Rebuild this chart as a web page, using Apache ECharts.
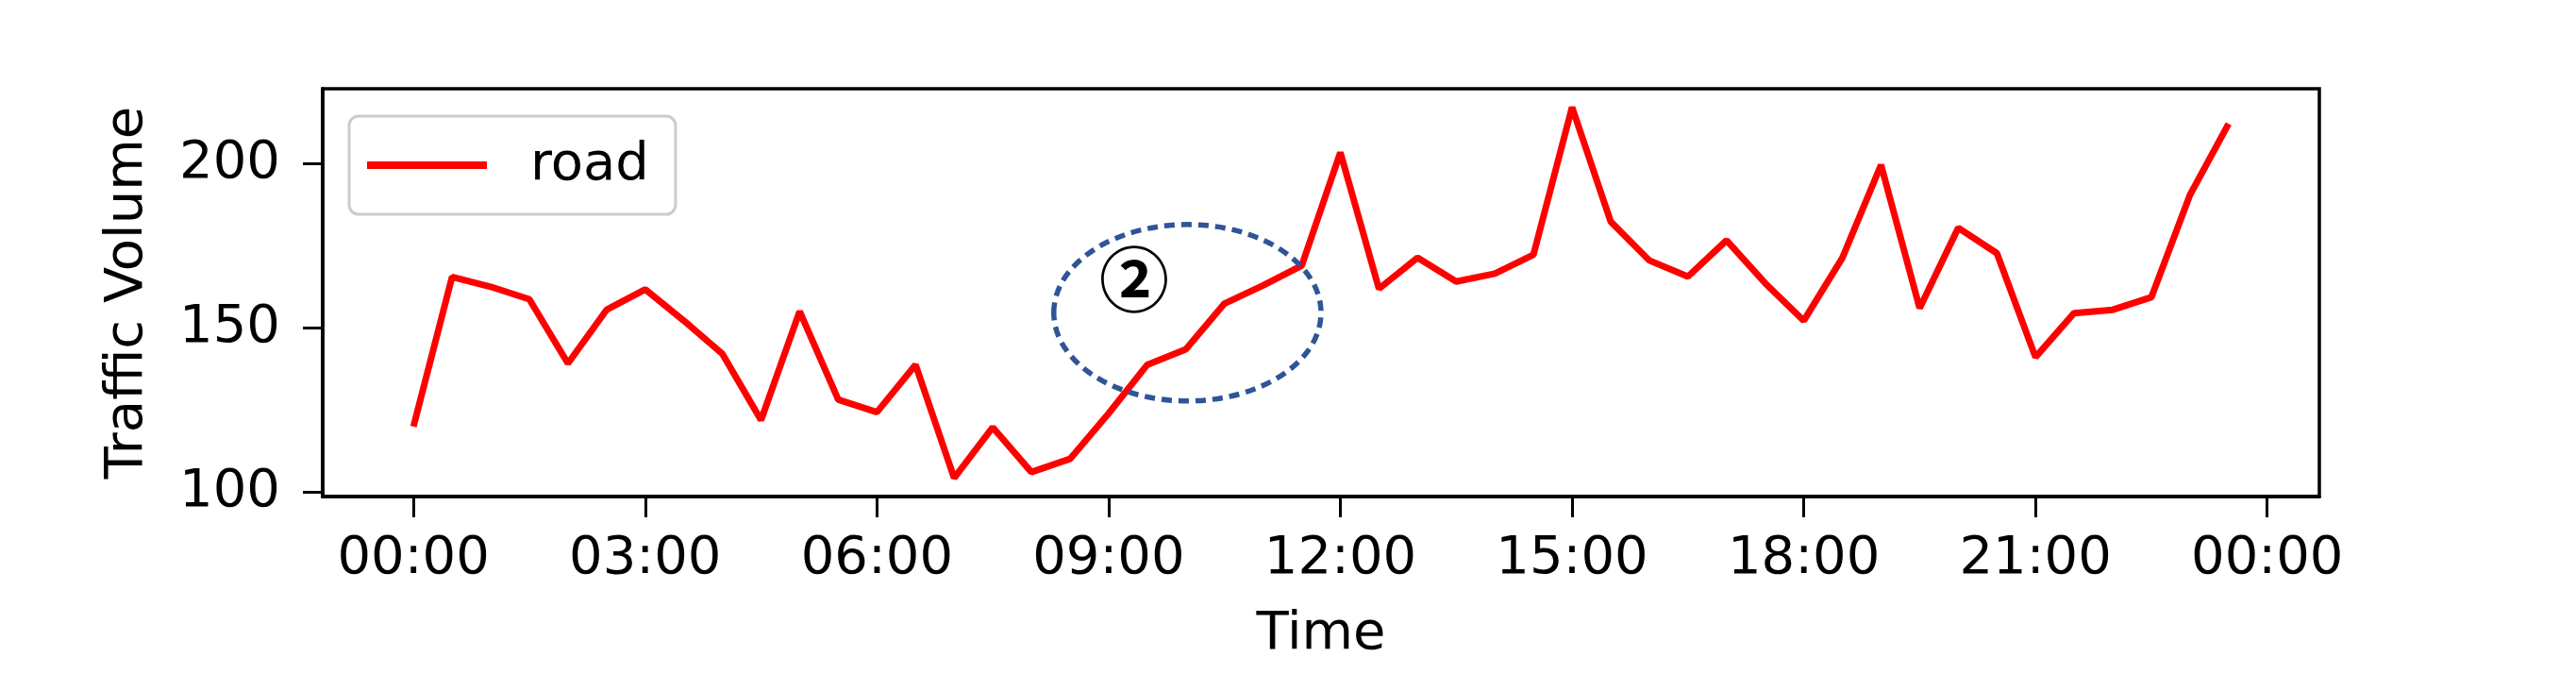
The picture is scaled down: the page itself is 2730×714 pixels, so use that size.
<!DOCTYPE html>
<html>
<head>
<meta charset="utf-8">
<script src="https://cdn.jsdelivr.net/npm/echarts@6/dist/echarts.min.js"></script>
<style>
html,body{margin:0;padding:0;background:#fff;}
#chart{width:2730px;height:714px;}
</style>
</head>
<body>
<div id="chart"></div>
<script>
// ---- data ----
var times = ["00:00","00:30","01:00","01:30","02:00","02:30","03:00","03:30",
             "04:00","04:30","05:00","05:30","06:00","06:30","07:00","07:30",
             "08:00","08:30","09:00","09:30","10:00","10:30","11:00","11:30",
             "12:00","12:30","13:00","13:30","14:00","14:30","15:00","15:30",
             "16:00","16:30","17:00","17:30","18:00","18:30","19:00","19:30",
             "20:00","20:30","21:00","21:30","22:00","22:30","23:00","23:30"];
var road = [120,165.5,162.5,158.7,139.2,155.5,161.7,152.2,
            142.1,122,155,128.2,124.4,138.8,104.4,119.8,
            106.2,110.2,124,138.8,143.5,157.4,162.9,168.9,
            203.3,161.9,171.3,164.1,166.5,172.2,217,182.3,
            170.5,165.6,176.6,163.6,152.2,171.3,199.5,156,
            180.4,172.7,141.1,154.5,155.5,159.3,190.4,212];
var xTickHours = [0,3,6,9,12,15,18,21,24];
var yTicks = [100,150,200];
var seriesName = "road";
// annotation (data coordinates: hours, volume)
var ellipseCenter = [10.02, 154.6];
var ellipseRadius = [1.73, 26.8];
var markLabelPos = [9.33, 164.7];
var markLabelText = "②";

function toHours(t){var p=t.split(":");return +p[0]+(+p[1])/60;}
function fmtHour(h){var v=((h%24)+24)%24;return (v<10?"0":"")+v+":00";}

var lineData = times.map(function(t,i){return [toHours(t), road[i]];});

var FONT = "DejaVu Sans";
var chart = echarts.init(document.getElementById('chart'), null, {renderer:'canvas'});
chart.setOption({
  backgroundColor:'#ffffff',
  animation:false,
  grid:{left:342, top:94, width:2116, height:432, show:true, borderColor:'#000', borderWidth:3.5, backgroundColor:'transparent'},
  legend:{
    data:[seriesName],
    left:370, top:123,
    orient:'vertical',
    icon:'rect',
    itemWidth:127, itemHeight:8,
    padding:[22,28,22,19],
    backgroundColor:'rgba(255,255,255,0.8)',
    borderColor:'#cccccc', borderWidth:3, borderRadius:10,
    textStyle:{fontFamily:FONT, fontSize:56, color:'#000', lineHeight:60, padding:[0,0,0,41]}
  },
  xAxis:{
    type:'value', min:-1.175, max:24.675,
    name:'Time', nameLocation:'middle', nameGap:118,
    nameTextStyle:{fontFamily:FONT, fontSize:56, color:'#000'},
    axisLine:{show:true, onZero:false, lineStyle:{color:'#000', width:3.5}},
    axisTick:{show:true, length:22, lineStyle:{color:'#000', width:3}, customValues:xTickHours},
    axisLabel:{fontFamily:FONT, fontSize:56, color:'#000', margin:38, customValues:xTickHours, formatter:function(v){return fmtHour(v);}},
    splitLine:{show:false}
  },
  yAxis:{
    type:'value', min:98.77, max:222.66,
    name:'Traffic Volume', nameLocation:'middle', nameGap:179,
    nameTextStyle:{fontFamily:FONT, fontSize:56, color:'#000'},
    axisLine:{show:true, onZero:false, lineStyle:{color:'#000', width:3.5}},
    axisTick:{show:true, length:21, lineStyle:{color:'#000', width:3}, customValues:yTicks},
    axisLabel:{fontFamily:FONT, fontSize:56, color:'#000', margin:45, customValues:yTicks},
    splitLine:{show:false}
  },
  series:[
    {
      name:seriesName, type:'line', data:lineData, showSymbol:false, symbol:'none',
      lineStyle:{color:'#ff0000', width:7}, itemStyle:{color:'#ff0000'}, z:2
    },
    {
      name:'annotation', type:'custom', silent:true, z:5, clip:false,
      data:[[ellipseCenter[0], ellipseCenter[1]]],
      renderItem:function(params, api){
        var c = api.coord(ellipseCenter);
        var s = api.size(ellipseRadius);
        var t = api.coord(markLabelPos);
        return {type:'group', children:[
          {type:'ellipse', shape:{cx:c[0], cy:c[1], rx:s[0], ry:s[1]},
           style:{fill:'none', stroke:'#2F5597', lineWidth:5.5, lineDash:[11,7]}},
          {type:'text', x:t[0], y:t[1],
           style:{text:markLabelText, fontFamily:'Noto Sans CJK JP', fontWeight:'bold', fontSize:74, fill:'#000', align:'center', verticalAlign:'middle'}}
        ]};
      }
    }
  ]
});
</script>
</body>
</html>
